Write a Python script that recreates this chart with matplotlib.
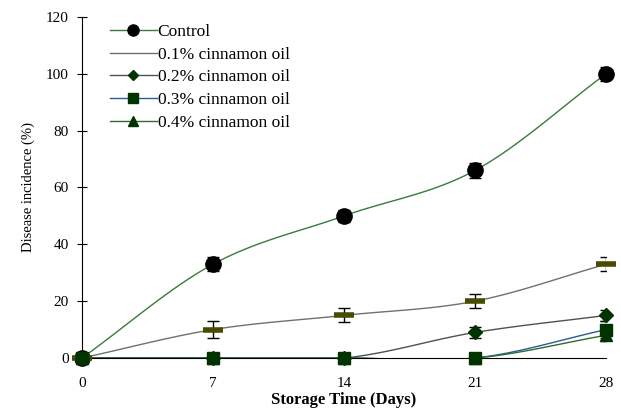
import matplotlib
matplotlib.use("Agg")
import matplotlib.pyplot as plt
import numpy as np

plt.rcParams['font.family'] = ['Liberation Serif', 'DejaVu Serif']

days = [0, 7, 14, 21, 28]
control = [0, 33, 50, 66, 100]
control_err = [0, 2.5, 2, 2.5, 2.5]
oil01 = [0, 10, 15, 20, 33]
oil01_err = [0, 3, 2.5, 2.5, 2.5]
oil02 = [0, 0, 0, 9, 15]
oil02_err = [0, 0, 0, 2, 2]
oil03 = [0, 0, 0, 0, 10]
oil03_err = [0, 0, 0, 0, 3]
oil04 = [0, 0, 0, 0, 8]
oil04_err = [0, 0, 0, 0, 2]
labels = ['Control', '0.1% cinnamon oil', '0.2% cinnamon oil',
          '0.3% cinnamon oil', '0.4% cinnamon oil']


def smooth(x, y, n=30):
    # catmull-rom, like excel "smoothed line"
    x = np.asarray(x, float)
    y = np.asarray(y, float)
    px = np.concatenate([[2 * x[0] - x[1]], x, [2 * x[-1] - x[-2]]])
    py = np.concatenate([[2 * y[0] - y[1]], y, [2 * y[-1] - y[-2]]])
    xs, ys = [], []
    t = np.linspace(0, 1, n)
    for i in range(1, len(px) - 2):
        for p, out in ((px, xs), (py, ys)):
            p0, p1, p2, p3 = p[i - 1], p[i], p[i + 1], p[i + 2]
            out.extend(0.5 * (2 * p1 + (-p0 + p2) * t +
                              (2 * p0 - 5 * p1 + 4 * p2 - p3) * t ** 2 +
                              (-p0 + 3 * p1 - 3 * p2 + p3) * t ** 3))
    return xs, ys


fig = plt.figure(figsize=(6.21, 4.12), dpi=100)
ax = fig.add_axes([0.132, 0.131, 0.844, 0.828])

mk = '#003300'
# values, errors, line colour, marker, marker colour, size, edge width, legend size
series = [
    (control, control_err, '#3a7a3a', 'o', 'black', 11, 1, 8),
    (oil01, oil01_err, '#707070', '_', '#4a4a00', 14, 4, 0),
    (oil02, oil02_err, '#505050', 'D', mk, 7, 1, 5),
    (oil03, oil03_err, '#2a5a9a', 's', mk, 9, 1, 7),
    (oil04, oil04_err, '#2e6b2e', '^', mk, 9, 1, 7),
]

handles = []
for (vals, err, lc, m, mc, ms, mew, lms), lab in zip(series, labels):
    sx, sy = smooth(days, vals)
    ax.plot(sx, sy, color=lc, lw=1, zorder=2)
    ax.errorbar(days, vals, yerr=err, fmt='none', ecolor='black',
                elinewidth=1, capsize=4, zorder=3)
    ax.plot(days, vals, ls='none', marker=m, color=mc, ms=ms, mew=mew,
            zorder=4, clip_on=False)
    h, = ax.plot([], [], color=lc, lw=1, marker=(m if m != '_' else None),
                 mfc=mc, mec=mc, ms=lms)
    handles.append(h)

ax.set_xlim(0, 28)
ax.set_ylim(0, 120)
ax.set_xticks(days)
ax.set_yticks(range(0, 121, 20))
ax.tick_params(axis='x', length=0, labelsize=11, pad=14)
ax.tick_params(axis='y', direction='inout', length=7, labelsize=11, pad=6)
ax.set_xticks([28], minor=True)
ax.tick_params(axis='x', which='minor', direction='inout', length=8)
for s in ['top', 'right']:
    ax.spines[s].set_visible(False)

ax.set_xlabel('Storage Time (Days)', fontsize=12, fontweight='bold', labelpad=1)
ax.set_ylabel('Disease incidence (%)', fontsize=10.5, labelpad=8)

ax.legend(handles, labels, loc='upper left', bbox_to_anchor=(0.04, 1.0),
          frameon=False, fontsize=12.5, handlelength=2.7, labelspacing=0.38,
          handletextpad=0.05, borderaxespad=0.0)

fig.savefig('out.png', dpi=100)
